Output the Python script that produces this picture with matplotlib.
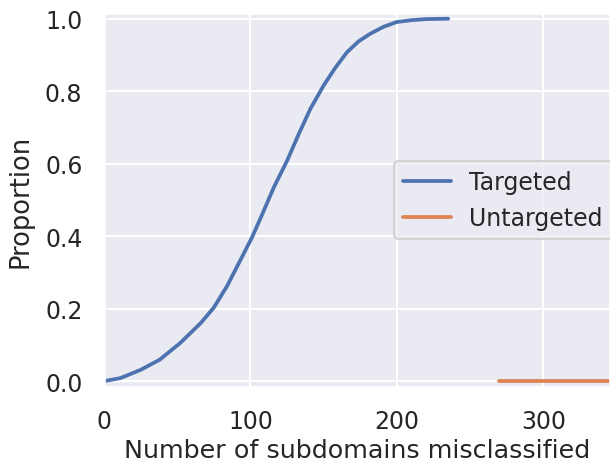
import matplotlib
matplotlib.use("Agg")
import matplotlib.pyplot as plt
import seaborn as sns

# proportion of domains vs. number of subdomains misclassified
targeted_x = [0, 11, 25, 38, 52, 66, 75, 84, 92, 101, 108, 116, 125, 133, 141, 150,
              158, 166, 174, 182, 191, 200, 210, 220, 235]
targeted_y = [0, 0.008, 0.031, 0.059, 0.105, 0.16, 0.203, 0.262, 0.325, 0.396, 0.46, 0.535,
              0.608, 0.682, 0.752, 0.816, 0.865, 0.908, 0.938, 0.959, 0.978, 0.991, 0.996, 0.999, 1.0]

untargeted_x = [270, 360]
untargeted_y = [0, 0]

sns.set_theme(context="talk", style="darkgrid")
pal = sns.color_palette("deep")

fig = plt.figure(figsize=(6.1, 4.64), dpi=100)
ax = fig.add_axes([0.1705, 0.164, 0.8295, 0.806])

ax.plot(targeted_x, targeted_y, color=pal[0], linewidth=2.7, label="Targeted")
ax.plot(untargeted_x, untargeted_y, color=pal[1], linewidth=2.7, label="Untargeted")

ax.set_xlim(0, 345.5)
ax.set_ylim(-0.016, 1.016)
ax.set_xticks([0, 100, 200, 300])
ax.set_yticks([0, 0.2, 0.4, 0.6, 0.8, 1.0])
ax.tick_params(axis="x", labelsize=17, pad=6.8)
ax.tick_params(axis="y", labelsize=17, pad=6.5)
ax.set_xlabel("Number of subdomains misclassified", fontsize=18.3, labelpad=3.5)
ax.set_ylabel("Proportion", fontsize=18.5, labelpad=8)
ax.legend(loc="center left", bbox_to_anchor=(0.573, 0.5), borderaxespad=0, fontsize=17)

fig.savefig("out.png", dpi=100)
